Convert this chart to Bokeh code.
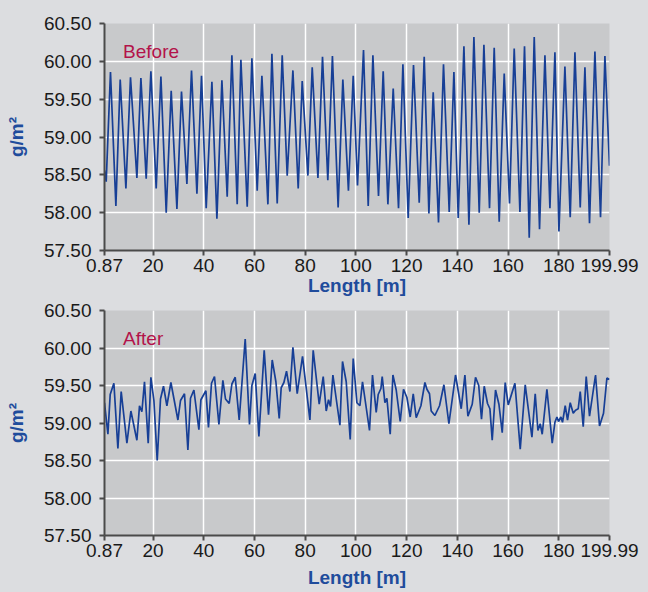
from bokeh.plotting import figure
from bokeh.layouts import column
from bokeh.models import FixedTicker, Label, Range1d
from bokeh.embed import file_html
from bokeh.resources import INLINE

# ---------------- data ----------------
before_x = [0.87, 1.54, 3.23, 5.36, 7.06, 9.31, 11.12, 13.64, 15.22, 17.31, 19.16, 21.25, 23.11, 25.20,
            27.17, 29.42, 31.23, 33.36, 35.18, 37.31, 39.12, 40.97, 43.22, 45.19, 47.16, 49.25, 51.10,
            53.19, 54.65, 57.14, 58.99, 61.08, 62.93, 65.30, 66.88, 68.97, 70.94, 72.91, 75.16, 77.25,
            78.83, 81.07, 82.77, 85.02, 86.83, 88.92, 90.74, 92.99, 94.85, 97.05, 98.94, 100.63, 103.00,
            104.85, 106.70, 108.91, 110.76, 112.61, 114.71, 116.80, 118.53, 120.62, 122.71, 124.96,
            126.93, 128.78, 130.48, 132.57, 134.54, 136.79, 138.64, 140.34, 142.59, 144.56, 146.53,
            148.62, 150.47, 152.68, 154.53, 156.50, 158.48, 160.57, 162.42, 164.67, 166.48, 168.34,
            170.31, 172.40, 174.53, 176.50, 178.47, 180.05, 182.41, 184.50, 186.36, 188.45, 190.30,
            192.11, 194.24, 196.45, 198.18, 199.99]
before_y = [58.56, 58.41, 59.86, 58.09, 59.76, 58.32, 59.79, 58.46, 59.78, 58.45, 59.87, 58.32, 59.80,
            58.00, 59.61, 58.05, 59.60, 58.38, 59.88, 58.25, 59.81, 58.06, 59.73, 57.92, 59.75, 58.21,
            60.08, 58.11, 60.02, 58.08, 60.04, 58.29, 59.81, 58.11, 60.10, 58.12, 60.08, 58.49, 59.88,
            58.32, 59.74, 58.49, 59.92, 58.46, 60.06, 58.43, 60.07, 58.07, 59.76, 58.29, 59.81, 58.36,
            60.15, 58.09, 60.08, 58.22, 59.87, 58.11, 59.64, 58.06, 59.96, 57.93, 59.95, 58.13, 60.06,
            57.99, 59.59, 57.87, 59.96, 58.01, 59.86, 57.93, 60.20, 57.84, 60.32, 58.00, 60.22, 58.06,
            60.18, 57.88, 59.84, 58.12, 60.17, 58.01, 60.20, 57.67, 60.32, 57.78, 60.08, 58.06, 60.12,
            57.75, 59.93, 57.94, 60.12, 58.07, 59.92, 57.86, 60.13, 57.94, 60.07, 58.62]

after_x = [0.87, 2.21, 3.12, 4.57, 6.15, 7.45, 9.70, 11.28, 13.64, 14.67, 15.61, 16.64, 18.10, 19.16,
           20.35, 21.65, 22.95, 24.13, 25.47, 27.05, 29.81, 30.84, 32.41, 33.75, 34.78, 36.12, 38.09,
           38.88, 40.85, 41.87, 43.06, 44.24, 45.98, 47.55, 48.58, 50.04, 51.10, 52.41, 53.98, 56.35,
           58.04, 58.99, 60.29, 61.75, 63.84, 65.54, 67.00, 68.45, 69.76, 70.54, 71.61, 72.64, 73.98,
           75.16, 76.85, 78.95, 81.86, 83.16, 85.53, 87.11, 88.29, 89.20, 89.99, 90.93, 93.69, 94.72,
           96.18, 97.76, 98.94, 100.39, 101.58, 102.60, 105.36, 106.54, 108.00, 108.79, 109.86, 110.37,
           111.43, 112.22, 113.52, 114.59, 115.89, 117.47, 118.77, 120.11, 121.41, 122.60, 123.78,
           125.63, 127.21, 128.00, 129.02, 129.69, 131.15, 132.97, 134.70, 136.67, 139.28, 141.52,
           142.98, 144.16, 145.86, 147.16, 148.43, 149.52, 150.59, 151.89, 152.84, 153.74, 155.05,
           156.39, 157.69, 158.87, 160.06, 162.70, 164.79, 166.76, 169.40, 170.70, 171.77, 172.67,
           173.46, 175.31, 177.40, 178.47, 179.26, 179.89, 180.83, 181.46, 182.53, 183.44, 184.50,
           185.69, 186.59, 187.66, 188.45, 189.63, 190.81, 192.11, 194.48, 196.06, 197.63, 198.97, 199.99]
after_y = [59.27, 58.85, 59.38, 59.53, 58.66, 59.42, 58.73, 59.16, 58.77, 59.23, 59.15, 59.55, 58.73,
           59.61, 59.30, 58.50, 59.32, 59.49, 59.23, 59.54, 59.04, 59.30, 59.39, 58.64, 59.33, 59.44,
           58.91, 59.31, 59.43, 58.94, 59.53, 59.62, 58.98, 59.57, 59.32, 59.26, 59.52, 59.61, 59.04,
           60.12, 58.98, 59.50, 59.66, 58.82, 59.97, 59.11, 59.84, 59.55, 59.06, 59.47, 59.54, 59.69,
           59.42, 60.01, 59.39, 59.89, 59.04, 59.97, 59.25, 59.62, 59.16, 59.31, 59.22, 59.64, 58.97,
           59.82, 59.55, 58.78, 59.86, 59.27, 59.23, 59.55, 58.90, 59.64, 59.14, 59.38, 59.46, 59.62,
           59.27, 59.33, 58.85, 59.64, 59.44, 59.02, 59.45, 59.34, 59.08, 59.39, 59.07, 59.23, 59.54,
           59.45, 59.39, 59.16, 59.10, 59.23, 59.51, 58.99, 59.64, 59.19, 59.64, 59.09, 59.25, 59.61,
           59.50, 59.05, 59.49, 59.26, 59.19, 58.77, 59.44, 59.25, 58.87, 59.54, 59.24, 59.53, 58.65,
           59.51, 58.81, 59.39, 58.90, 58.99, 58.85, 59.45, 58.73, 59.01, 59.08, 59.02, 59.08, 59.01,
           59.23, 59.04, 59.27, 59.13, 59.17, 59.19, 59.42, 58.95, 59.62, 59.09, 59.64, 58.96, 59.13,
           59.60, 59.58]

x_ticks = [0.87, 20, 40, 60, 80, 100, 120, 140, 160, 180, 199.99]
x_tick_labels = ["0.87", "20", "40", "60", "80", "100", "120", "140", "160", "180", "199.99"]
y_ticks = [57.5, 58.0, 58.5, 59.0, 59.5, 60.0, 60.5]
y_tick_labels = ["57.50", "58.00", "58.50", "59.00", "59.50", "60.00", "60.50"]
x_grid = [20, 40, 60, 80, 100, 120, 140, 160, 180]
y_grid = [58.0, 58.5, 59.0, 59.5, 60.0]
panel_titles = ["Before", "After"]
x_title = "Length [m]"
y_title = "g/m²"

# ---------------- style ----------------
FONT = "Liberation Sans"
PAGE_BG = "#dcdde0"
PLOT_BG = "#c8c9cb"
LINE_COLOR = "#173f96"
LABEL_BLUE = "#1f4c9c"
CRIMSON = "#b3134a"
AXIS_COLOR = "#4a4a4a"
X0, X1 = x_ticks[0], x_ticks[-1]
Y0, Y1 = y_ticks[0], y_ticks[-1]


def make_panel(xs, ys, title, height, top, bottom, xlabel_standoff):
    p = figure(width=648, height=height, output_backend="svg", toolbar_location=None,
               x_range=Range1d(X0, X1), y_range=Range1d(Y0, Y1),
               min_border_left=104, min_border_right=39, min_border_top=top,
               min_border_bottom=bottom)
    p.background_fill_color = PLOT_BG
    p.border_fill_color = PAGE_BG
    p.outline_line_color = None
    p.styles = {"background-color": PAGE_BG}

    p.line(xs, ys, line_color=LINE_COLOR, line_width=1.7)

    for ax in (p.xaxis[0], p.yaxis[0]):
        ax.axis_line_color = AXIS_COLOR
        ax.axis_line_width = 2
        ax.major_tick_line_color = AXIS_COLOR
        ax.major_tick_line_width = 2
        ax.major_tick_out = 5
        ax.major_tick_in = 0
        ax.minor_tick_line_color = None
        ax.major_label_text_font = FONT
        ax.major_label_text_font_size = "19px"
        ax.major_label_text_color = "#1a1a1a"

    p.xaxis[0].ticker = FixedTicker(ticks=x_ticks)
    p.xaxis[0].major_label_overrides = dict(zip(x_ticks, x_tick_labels))
    p.xaxis[0].major_label_standoff = 3
    p.xaxis[0].axis_label = x_title
    p.xaxis[0].axis_label_standoff = xlabel_standoff

    p.yaxis[0].ticker = FixedTicker(ticks=y_ticks)
    p.yaxis[0].major_label_overrides = dict(zip(y_ticks, y_tick_labels))
    p.yaxis[0].major_label_standoff = 8
    p.yaxis[0].axis_label = y_title
    p.yaxis[0].axis_label_standoff = 14

    for ax in (p.xaxis[0], p.yaxis[0]):
        ax.axis_label_text_font = FONT
        ax.axis_label_text_font_style = "bold"
        ax.axis_label_text_font_size = "19px"
        ax.axis_label_text_color = LABEL_BLUE

    p.xgrid[0].ticker = FixedTicker(ticks=x_grid)
    p.ygrid[0].ticker = FixedTicker(ticks=y_grid)
    for g in (p.xgrid[0], p.ygrid[0]):
        g.grid_line_color = "white"
        g.grid_line_width = 1.5

    p.add_layout(Label(x=8.2, y=60.127, text=title, text_font=FONT, text_font_size="19px",
                       text_color=CRIMSON, text_baseline="alphabetic"))
    return p


p1 = make_panel(before_x, before_y, panel_titles[0], 298, 23, 40, 0)
p2 = make_panel(after_x, after_y, panel_titles[1], 294, 12, 57, 7)
p = column(p1, p2, spacing=0)
p.styles = {"background-color": PAGE_BG}

open("out.html", "w").write(file_html(p, INLINE, title="Before / After"))
